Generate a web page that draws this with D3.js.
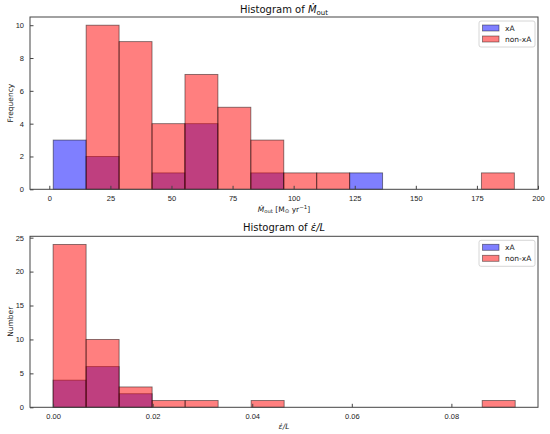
<!DOCTYPE html>
<html>
<head>
<meta charset="utf-8">
<script src="https://cdn.jsdelivr.net/npm/d3@7"></script>
<style>
  body { margin: 0; background: #fff; }
  svg { font-family: 'DejaVu Sans', sans-serif; }
  .axis text { font-size: 7.5px; fill: #222; }
  .axis path, .axis line { stroke: #444; }
</style>
</head>
<body>
<svg width="550" height="434"></svg>
<script>
// bin edges (shared by both groups in each panel)
const mdotStart = 1.6, mdotWidth = 13.48;
const mdotXA    = [3, 2, 0, 1, 4, 0, 1, 0, 0, 1, 0, 0, 0, 0];
const mdotNonXA = [0, 10, 9, 4, 7, 5, 3, 1, 1, 0, 0, 0, 0, 1];
const mdotTicks = [0, 25, 50, 75, 100, 125, 150, 175, 200];
const mdotYTicks = [0, 2, 4, 6, 8, 10];

const epsStart = 0, epsWidth = 0.00663;
const epsXA    = [4, 6, 2, 0, 0, 0, 0, 0, 0, 0, 0, 0, 0, 0];
const epsNonXA = [24, 10, 3, 1, 1, 0, 1, 0, 0, 0, 0, 0, 0, 1];
const epsTicks = [0, 0.02, 0.04, 0.06, 0.08];
const epsYTicks = [0, 5, 10, 15, 20, 25];

const groups = ['xA', 'non-xA'];
const colors = ['#0000ff', '#ff0000'];

const svg = d3.select('svg');

function panel(opt) {
  const x = d3.scaleLinear().domain(opt.xDomain).range([30, 538]);
  const y = d3.scaleLinear().domain(opt.yDomain).range([opt.bottom, opt.top]);
  const g = svg.append('g');

  [opt.a, opt.b].forEach((counts, k) => {
    const bins = counts.map((c, i) => ({
      x0: opt.start + i * opt.width,
      x1: opt.start + (i + 1) * opt.width,
      c: c
    })).filter(d => d.c > 0);
    g.selectAll(null).data(bins)
      .enter().append('rect')
        .attr('x', d => x(d.x0))
        .attr('width', d => x(d.x1) - x(d.x0))
        .attr('y', d => y(d.c))
        .attr('height', d => y(0) - y(d.c))
        .attr('fill', colors[k])
        .attr('fill-opacity', 0.5)
        .attr('stroke', 'rgba(0,0,0,0.5)')
        .attr('stroke-width', 0.9);
  });

  const xAxis = g.append('g').attr('class', 'axis')
      .attr('transform', `translate(0,${opt.bottom})`)
      .call(d3.axisBottom(x).tickValues(opt.xTicks).tickFormat(opt.xFormat).tickSizeInner(-3.5).tickSizeOuter(0).tickPadding(6));
  xAxis.select('.domain').remove();
  const yAxis = g.append('g').attr('class', 'axis')
      .attr('transform', 'translate(30,0)')
      .call(d3.axisLeft(y).tickValues(opt.yTicks).tickFormat(d3.format('d')).tickSizeInner(-3.5).tickSizeOuter(0).tickPadding(6));
  yAxis.select('.domain').remove();

  g.append('rect')
      .attr('x', 30).attr('y', opt.top)
      .attr('width', 508).attr('height', opt.bottom - opt.top)
      .attr('fill', 'none').attr('stroke', '#444').attr('stroke-width', 1);

  // legend
  const lg = g.append('g').attr('transform', `translate(479,${opt.top + 4})`);
  lg.append('rect').attr('width', 56).attr('height', 26).attr('rx', 2)
      .attr('fill', '#fff').attr('fill-opacity', 0.8).attr('stroke', '#ccc').attr('stroke-width', 0.8);
  groups.forEach((name, k) => {
    lg.append('rect').attr('x', 3.5).attr('y', 4 + k * 11).attr('width', 16.5).attr('height', 6)
        .attr('fill', colors[k]).attr('fill-opacity', 0.5)
        .attr('stroke', 'rgba(0,0,0,0.5)').attr('stroke-width', 0.8);
    lg.append('text').attr('x', 26).attr('y', 9.8 + k * 11)
        .attr('font-size', 7.5).attr('fill', '#222').text(name);
  });

  // y label
  g.append('text')
      .attr('transform', `translate(13,${(opt.top + opt.bottom) / 2}) rotate(-90)`)
      .attr('text-anchor', 'middle').attr('font-size', 7.5).attr('fill', '#222')
      .text(opt.yLabel);

  return g;
}

panel({
  xDomain: [-7.9, 200], yDomain: [0, 10.5], top: 17, bottom: 189.3,
  start: mdotStart, width: mdotWidth, a: mdotXA, b: mdotNonXA,
  xTicks: mdotTicks, yTicks: mdotYTicks, xFormat: d3.format('d'), yLabel: 'Frequency'
});
panel({
  xDomain: [-0.00464, 0.0974], yDomain: [0, 25.2], top: 236.3, bottom: 407.3,
  start: epsStart, width: epsWidth, a: epsXA, b: epsNonXA,
  xTicks: epsTicks, yTicks: epsYTicks, xFormat: d3.format('.2f'), yLabel: 'Number'
});

// titles and x labels with math-style text
function mdot(sel, size) {
  sel.append('tspan').attr('font-style', 'italic').text('Ṁ');
  sel.append('tspan').attr('font-size', size * 0.7).attr('dy', size * 0.25).text('out');
}

const t1 = svg.append('text').attr('x', 284).attr('y', 12.5)
    .attr('text-anchor', 'middle').attr('font-size', 10).attr('fill', '#111');
t1.append('tspan').text('Histogram of ');
mdot(t1, 10);

const xl1 = svg.append('text').attr('x', 284).attr('y', 211.5)
    .attr('text-anchor', 'middle').attr('font-size', 7.5).attr('fill', '#222');
mdot(xl1, 7.5);
xl1.append('tspan').attr('dy', -7.5 * 0.25).text(' [M');
xl1.append('tspan').attr('font-size', 5.5).attr('dy', 1.5).text('⊙');
xl1.append('tspan').attr('dy', -1.5).text(' yr');
xl1.append('tspan').attr('font-size', 5.5).attr('dy', -3).text('−1');
xl1.append('tspan').attr('dy', 3).text(']');

svg.append('text').attr('x', 284).attr('y', 230.5)
    .attr('text-anchor', 'middle').attr('font-size', 10).attr('fill', '#111')
    .text('Histogram of ')
  .append('tspan').attr('font-style', 'italic').text('ε̇/L');

svg.append('text').attr('x', 284).attr('y', 428.5)
    .attr('text-anchor', 'middle').attr('font-size', 7.5).attr('fill', '#222')
    .attr('font-style', 'italic').text('ε̇/L');
</script>
</body>
</html>
